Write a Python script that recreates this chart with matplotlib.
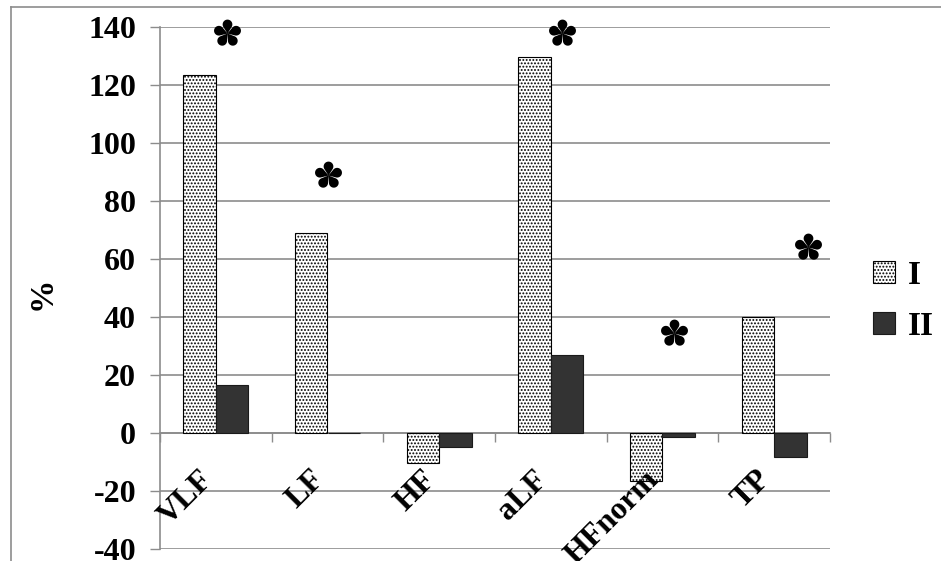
import numpy as np
import matplotlib
matplotlib.use("Agg")
import matplotlib.pyplot as plt
import matplotlib.transforms as mtransforms
from matplotlib.lines import Line2D
from matplotlib.patches import Patch
from matplotlib.path import Path

# values (% change)
categories = ['VLF', 'LF', 'HF', 'aLF', 'HFnorm', 'TP']
group_I = [123.5, 69.0, -10.3, 129.7, -16.5, 40.0]
group_II = [16.5, 0.0, -4.8, 27.0, -1.3, -8.2]
series_names = ['I', 'II']

# significance marks (category position, height)
star_x = [0.10, 1.0, 3.10, 4.10, 5.30]
star_y = [138, 89, 138, 34.5, 64]

yticks = list(range(-40, 141, 20))

plt.rcParams['font.family'] = ['Liberation Serif', 'DejaVu Serif']
plt.rcParams['font.weight'] = 'bold'
plt.rcParams['axes.unicode_minus'] = False
plt.rcParams['hatch.linewidth'] = 0.9

grey = '#8c8c8c'


# five teardrop petals, like the asterisk in the original
def petal_star(d=0.65, r=0.35, n=5):
    verts, codes = [], []
    phi = np.arcsin(r / d)
    t = np.linspace(-(np.pi / 2 + phi), np.pi / 2 + phi, 30)
    for k in range(n):
        a = np.pi / 2 + 2 * np.pi * k / n
        px = np.concatenate([[0], d + r * np.cos(t), [0]])
        py = np.concatenate([[0], r * np.sin(t), [0]])
        rx = px * np.cos(a) - py * np.sin(a)
        ry = px * np.sin(a) + py * np.cos(a)
        verts += list(zip(rx, ry))
        codes += [Path.MOVETO] + [Path.LINETO] * (len(rx) - 2) + [Path.CLOSEPOLY]
    return Path(verts, codes)


fig = plt.figure(figsize=(9.41, 5.61), dpi=100)
ax = fig.add_axes([160 / 941, 1 - 549 / 561, (830 - 160) / 941, (549 - 27) / 561])

x = np.arange(len(categories))
w = 0.29
ax.bar(x - w / 2, group_I, w, facecolor='white', edgecolor='black', hatch='.....',
       linewidth=0.8, label=series_names[0], zorder=3)
ax.bar(x + w / 2, group_II, w, facecolor='#333333', edgecolor='#1a1a1a',
       linewidth=0.8, label=series_names[1], zorder=3)

ax.plot(star_x, star_y, linestyle='none', marker=petal_star(), markersize=20,
        color='black', markeredgewidth=0, zorder=4, clip_on=False)

ax.set_xlim(-0.5, len(categories) - 0.5)
ax.set_ylim(-40, 140)
ax.set_yticks(yticks)
ax.yaxis.grid(True, color=grey, linewidth=1.2, zorder=0)
ax.set_axisbelow(True)
# category labels sit over the bars, as in the original
ax.xaxis.set_zorder(5)

ax.set_xticks(x)
ax.set_xticks(np.arange(-0.5, len(categories), 1), minor=True)
ax.tick_params(axis='x', which='major', length=0, pad=23)
ax.tick_params(axis='x', which='minor', length=6.5, color=grey, width=1)
ax.tick_params(axis='y', length=7.2, color=grey, width=1, pad=10)

ax.spines['bottom'].set_position(('data', 0))
ax.spines['bottom'].set_color(grey)
ax.spines['left'].set_color(grey)
ax.spines['top'].set_visible(False)
ax.spines['right'].set_visible(False)
for sp in ax.spines.values():
    sp.set_linewidth(1.2)

ax.set_yticklabels([str(v) for v in yticks], fontsize=23, fontweight='bold')
ax.set_xticklabels(categories, fontsize=23, fontweight='bold', rotation=45,
                   ha='right', va='top', rotation_mode='anchor')
shift = mtransforms.ScaledTranslation(-18 / 100, 0, fig.dpi_scale_trans)
for lab in ax.get_xticklabels():
    lab.set_transform(lab.get_transform() + shift)

fig.text(42 / 941, 1 - 293 / 561, '%', fontsize=24, rotation=90,
         ha='center', va='center')

handles = [Patch(facecolor='white', edgecolor='black', hatch='.....', linewidth=0.8),
           Patch(facecolor='#333333', edgecolor='#1a1a1a', linewidth=0.8)]
fig.legend(handles, series_names, loc='center left', bbox_to_anchor=(873 / 941, 1 - 301 / 561),
           frameon=False, fontsize=24, handlelength=0.66, handleheight=0.63,
           labelspacing=0.6, handletextpad=0.4, borderpad=0, borderaxespad=0)

# outer chart frame (cut off at the right and bottom)
fig.add_artist(Line2D([11 / 941, 11 / 941], [0, 1 - 7 / 561], color=grey, linewidth=1.2))
fig.add_artist(Line2D([11 / 941, 1], [1 - 7 / 561, 1 - 7 / 561], color=grey, linewidth=1.2))

fig.savefig('out.png', dpi=100)
